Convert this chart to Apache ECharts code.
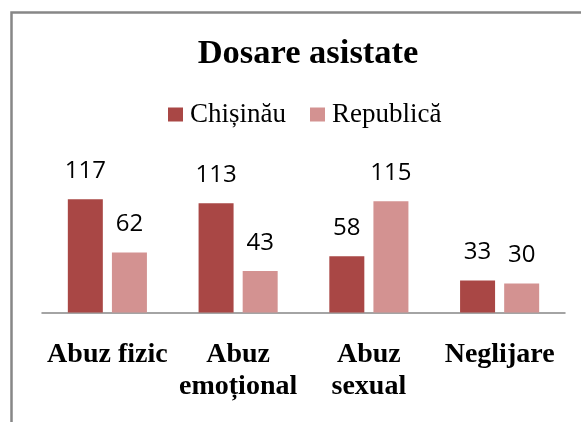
<!DOCTYPE html>
<html>
<head>
<meta charset="utf-8">
<script src="https://cdn.jsdelivr.net/npm/echarts@6/dist/echarts.min.js"></script>
<style>
  html, body { margin: 0; padding: 0; background: #fff; }
  #chart { width: 581px; height: 422px; }
</style>
</head>
<body>
<div id="chart"></div>
<script>
var categories = ['Abuz fizic', 'Abuz\nemoțional', 'Abuz\nsexual', 'Neglijare'];
var chisinau = [117, 113, 58, 33];
var republica = [62, 43, 115, 30];
var seriesNames = ['Chișinău', 'Republică'];

var chart = echarts.init(document.getElementById('chart'));
var labelStyle = {
    show: true,
    position: 'top',
    distance: 16,
    color: '#000',
    fontFamily: 'Open Sans',
    fontSize: 24
};
var option = {
    animation: false,
    title: {
        text: 'Dosare asistate',
        left: 303,
        textAlign: 'center',
        top: 32,
        textStyle: {
            fontFamily: 'Liberation Serif',
            fontWeight: 'bold',
            fontSize: 34.5,
            color: '#000'
        }
    },
    legend: {
        data: seriesNames,
        left: 163,
        top: 96,
        itemWidth: 15,
        itemHeight: 14,
        itemGap: 24,
        icon: 'rect',
        textStyle: {
            fontFamily: 'Liberation Serif',
            fontSize: 27,
            color: '#000',
            padding: [0, 0, 0, 2]
        }
    },
    graphic: [{
        type: 'rect',
        shape: { x: 11.5, y: 12.5, width: 700, height: 600 },
        style: { fill: 'none', stroke: '#878787', lineWidth: 2.5 },
        silent: true
    }],
    grid: { left: 42, right: 16, top: 177, bottom: 109.5 },
    xAxis: {
        type: 'category',
        data: categories,
        axisTick: { show: false },
        axisLine: { lineStyle: { color: '#878787', width: 1.5 } },
        axisLabel: {
            interval: 0,
            margin: 26,
            fontFamily: 'Liberation Serif',
            fontWeight: 'bold',
            fontSize: 28,
            lineHeight: 32,
            color: '#000'
        }
    },
    yAxis: {
        type: 'value',
        min: 0,
        max: 140,
        show: false,
        splitLine: { show: false }
    },
    series: [{
        name: seriesNames[0],
        type: 'bar',
        data: chisinau,
        barWidth: 35,
        barGap: '26%',
        itemStyle: { color: '#A94745' },
        label: labelStyle
    }, {
        name: seriesNames[1],
        type: 'bar',
        data: republica,
        barWidth: 35,
        itemStyle: { color: '#D39291' },
        label: labelStyle
    }]
};
chart.setOption(option);
</script>
</body>
</html>
